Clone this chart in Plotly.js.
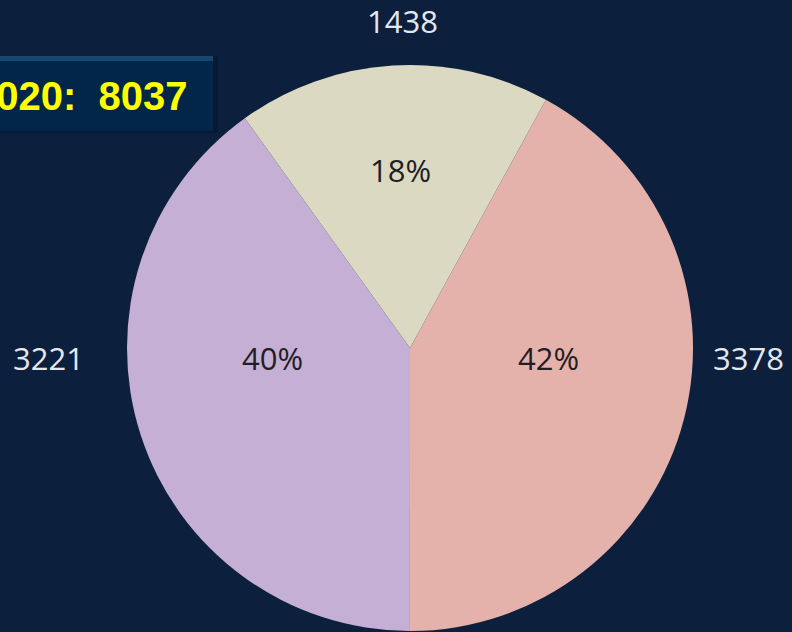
<!DOCTYPE html>
<html>
<head>
<meta charset="utf-8">
<script src="https://cdn.plot.ly/plotly-3.0.1.min.js"></script>
<style>
html,body{margin:0;padding:0;background:#0c1f3c;overflow:hidden;}
#chart{width:792px;height:632px;}
</style>
</head>
<body>
<div id="chart"></div>
<script>
const categories = ["A", "B", "C"];
const values = [3378, 3221, 1438];
const sliceColors = ["#e4b2ab", "#c6afd4", "#dcd9c3"];
const totalLabel = "2020:  8037";

// label placement (pixels from top-left), layout only
const valueLabelPos = [[748, 358], [48, 358], [402, 21]];
const pctLabelPos = [[548, 358], [272, 358], [400, 170]];

const W = 792, H = 632;
const cx = 410, cy = 348, r = 283;
const px = x => x / W;
const py = y => 1 - y / H;

const total = values.reduce((a, b) => a + b, 0);

const mainPie = {
  type: "pie",
  labels: categories,
  values: values,
  sort: false,
  direction: "clockwise",
  rotation: 28.7,
  marker: {colors: sliceColors, line: {width: 0}},
  textinfo: "none",
  hoverinfo: "none",
  showlegend: false,
  domain: {x: [px(cx - r), px(cx + r)], y: [py(cy + r), py(cy - r)]}
};

const labelFont = "Open Sans, sans-serif";
const annotations = [];
values.forEach((v, i) => {
  annotations.push({
    xref: "paper", yref: "paper",
    x: px(valueLabelPos[i][0]), y: py(valueLabelPos[i][1]),
    xanchor: "center", yanchor: "middle",
    text: String(v), showarrow: false,
    font: {family: labelFont, size: 31, color: "#e4e8ee"}
  });
  annotations.push({
    xref: "paper", yref: "paper",
    x: px(pctLabelPos[i][0]), y: py(pctLabelPos[i][1]),
    xanchor: "center", yanchor: "middle",
    text: Math.round(v / total * 100) + "%", showarrow: false,
    font: {family: labelFont, size: 31, color: "#221e24"}
  });
});
annotations.push({
  xref: "paper", yref: "paper",
  x: px(190), y: py(96),
  xanchor: "right", yanchor: "middle",
  text: "<b>" + totalLabel + "</b>",
  showarrow: false,
  font: {family: "Liberation Sans, Arial, sans-serif", size: 40, color: "#ffff00"}
});

const shapes = [
  {type: "rect", xref: "paper", yref: "paper", x0: px(-10), x1: px(218), y0: py(133), y1: py(56),
   fillcolor: "#081a33", line: {width: 0}, layer: "below"},
  {type: "rect", xref: "paper", yref: "paper", x0: px(-10), x1: px(213), y0: py(131), y1: py(56),
   fillcolor: "#012649", line: {width: 0}, layer: "below"},
  {type: "rect", xref: "paper", yref: "paper", x0: px(-10), x1: px(213), y0: py(61), y1: py(56),
   fillcolor: "#18466f", line: {width: 0}, layer: "below"}
];

const layout = {
  width: W,
  height: H,
  margin: {l: 0, r: 0, t: 0, b: 0},
  paper_bgcolor: "#0c1f3c",
  plot_bgcolor: "#0c1f3c",
  showlegend: false,
  shapes: shapes,
  annotations: annotations
};

Plotly.newPlot("chart", [mainPie], layout, {displayModeBar: false, staticPlot: true});
</script>
</body>
</html>
